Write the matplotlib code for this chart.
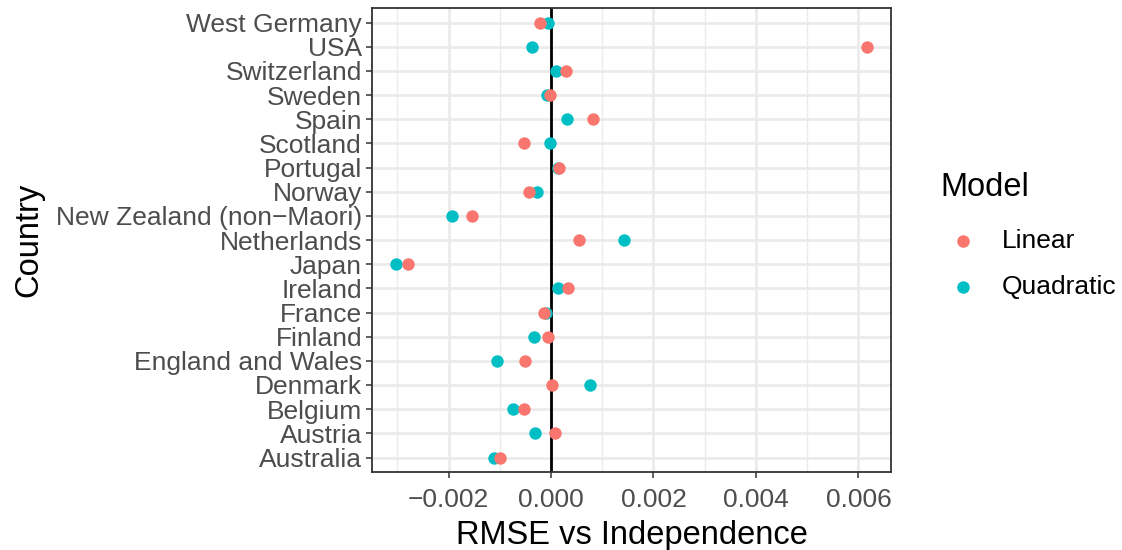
import matplotlib
matplotlib.use("Agg")
import matplotlib.pyplot as plt
from matplotlib.lines import Line2D
import numpy as np

plt.rcParams['font.family'] = ['Liberation Sans', 'DejaVu Sans']

countries = ["Australia", "Austria", "Belgium", "Denmark", "England and Wales",
             "Finland", "France", "Ireland", "Japan", "Netherlands",
             "New Zealand (non\u2212Maori)", "Norway", "Portugal", "Scotland",
             "Spain", "Sweden", "Switzerland", "USA", "West Germany"]

linear = [-0.000998, 0.000078, -0.000536, 0.000020, -0.000503,
          -0.000066, -0.000131, 0.000325, -0.002793, 0.000548,
          -0.001534, -0.000431, 0.000162, -0.000522,
          0.000814, -0.000020, 0.000286, 0.006176, -0.000215]

quadratic = [-0.001110, -0.000313, -0.000744, 0.000755, -0.001045,
             -0.000327, -0.000100, 0.000137, -0.003033, 0.001421,
             -0.001937, -0.000274, 0.000130, -0.000020,
             0.000319, -0.000086, 0.000098, -0.000372, -0.000066]

x_ticks = [-0.002, 0.000, 0.002, 0.004, 0.006]
x_minor = [-0.003, -0.001, 0.001, 0.003, 0.005]

col_lin = "#F8766D"
col_quad = "#00BFC4"

W, H = 1122, 550
fig = plt.figure(figsize=(W / 100, H / 100), dpi=100)
ax = fig.add_axes([372 / W, 1 - 472 / H, (891 - 372) / W, (472 - 8) / H])

y = np.arange(len(countries))

# panel grid (major and minor)
for xv in x_minor:
    ax.axvline(xv, color="#EBEBEB", lw=1.0, zorder=0)
for xv in x_ticks:
    ax.axvline(xv, color="#EBEBEB", lw=2.0, zorder=0)
for yv in y:
    ax.axhline(yv, color="#EBEBEB", lw=2.0, zorder=0)

# reference line at zero
ax.axvline(0, color="black", lw=2.0, zorder=1)

ax.scatter(quadratic, y, s=80, color=col_quad, zorder=3, linewidths=0)
ax.scatter(linear, y, s=80, color=col_lin, zorder=4, linewidths=0)

xmin = min(min(linear), min(quadratic))
xmax = max(max(linear), max(quadratic))
pad = 0.05 * (xmax - xmin)
ax.set_xlim(xmin - pad, xmax + pad)
ax.set_ylim(-0.6, len(countries) - 1 + 0.6)

ax.set_yticks(y)
ax.set_yticklabels(countries)
ax.set_xticks(x_ticks)
ax.set_xticklabels([f"{v:.3f}".replace("-", "\u2212") for v in x_ticks])

ax.tick_params(axis="both", colors="#333333", length=4.2, width=1.1,
               labelsize=19, labelcolor="#4D4D4D")
ax.tick_params(axis="y", pad=3)
ax.tick_params(axis="x", pad=7)

for s in ax.spines.values():
    s.set_color("#333333")
    s.set_linewidth(1.3)

ax.set_xlabel("RMSE vs Independence", fontsize=23.5, color="black", labelpad=6)
ax.set_ylabel("Country", fontsize=23.5, color="black", labelpad=8)

# legend
fig.text(940 / W, 1 - 187 / H, "Model", fontsize=23.5, color="black",
         ha="left", va="center")
for label, col, ypix in [("Linear", col_lin, 241), ("Quadratic", col_quad, 287)]:
    fig.add_artist(Line2D([963 / W], [1 - ypix / H], marker="o", linestyle="",
                          markersize=9, markerfacecolor=col, markeredgewidth=0,
                          transform=fig.transFigure))
    fig.text(1002 / W, 1 - ypix / H, label, fontsize=19, color="black",
             ha="left", va="center")

fig.savefig("out.png", dpi=100)
